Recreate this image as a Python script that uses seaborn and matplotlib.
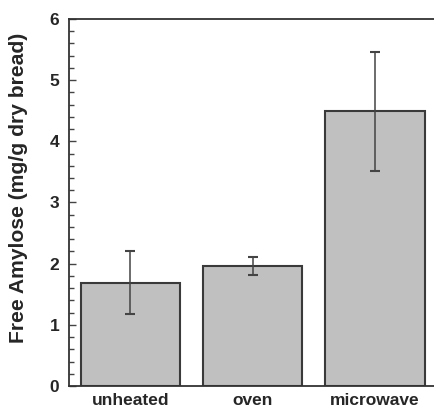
import matplotlib
matplotlib.use("Agg")
import matplotlib.pyplot as plt
import seaborn as sns
import pandas as pd
from matplotlib.ticker import MultipleLocator

categories = ["unheated", "oven", "microwave"]
values = [1.69, 1.96, 4.49]
errors = [0.51, 0.15, 0.97]

sns.set_style("ticks")
plt.rcParams['font.family'] = ['Liberation Sans', 'DejaVu Sans']

fig = plt.figure(figsize=(4.35, 4.11), dpi=100)
ax = fig.add_axes([0.1586, 0.0608, 0.8414, 0.893])

df = pd.DataFrame({"cat": categories, "val": values})
sns.barplot(data=df, x="cat", y="val", color="#c0c0c0", saturation=1,
            edgecolor="#3a3a3a", linewidth=1.5, width=0.81, errorbar=None, ax=ax)
ax.errorbar(range(len(categories)), values, yerr=errors, fmt="none",
            ecolor="#444444", elinewidth=1.1, capsize=3.5, capthick=1.5)

ax.set_xlim(-0.5, 2.49)
ax.set_ylim(0, 6)
ax.yaxis.set_major_locator(MultipleLocator(1))
ax.yaxis.set_minor_locator(MultipleLocator(0.2))
ax.tick_params(axis="y", which="major", direction="in", length=5, width=1,
               color="#444444", labelsize=12.5, pad=7)
ax.tick_params(axis="y", which="minor", direction="in", length=3.5, width=1,
               color="#444444")
ax.tick_params(axis="x", length=0, labelsize=12.5, pad=5)
for lab in ax.get_xticklabels() + ax.get_yticklabels():
    lab.set_fontweight("bold")

ax.set_xlabel("")
ax.set_ylabel("Free Amylose (mg/g dry bread)", fontsize=15.2, fontweight="bold")
ax.yaxis.set_label_coords(-0.112, 0.54)

for side in ["left", "bottom", "top"]:
    ax.spines[side].set_visible(True)
    ax.spines[side].set_color("#333333")
    ax.spines[side].set_linewidth(1.3)
ax.spines["right"].set_visible(False)

fig.savefig("out.png", dpi=100)
